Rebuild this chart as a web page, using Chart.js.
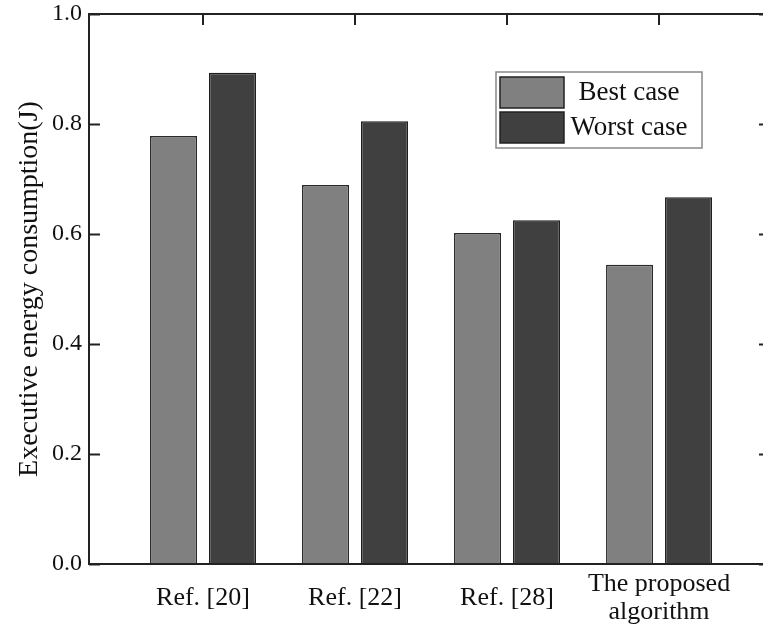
<!DOCTYPE html>
<html>
<head>
<meta charset="utf-8">
<script src="https://cdn.jsdelivr.net/npm/chart.js@4.4.1/dist/chart.umd.min.js"></script>
<style>
    html, body { margin: 0; padding: 0; background: #fff; overflow: hidden; }
    canvas { display: block; }
</style>
</head>
<body>
<canvas id="chart" width="780" height="630"></canvas>
<script>
const categories = ['Ref. [20]', 'Ref. [22]', 'Ref. [28]', ['The proposed', 'algorithm']];
const bestCase = [0.778, 0.689, 0.602, 0.544];
const worstCase = [0.893, 0.805, 0.625, 0.667];
const yTicks = [0, 0.2, 0.4, 0.6, 0.8, 1.0];

const serif = "'Liberation Serif', 'DejaVu Serif', serif";
const ink = '#222';

const toPoints = (values) => values.map((v, i) => ({ x: i, y: v }));

// frame, inward ticks and the boxed legend
const framePlugin = {
    id: 'frame',
    afterDraw(chart) {
        const { ctx, chartArea: a, scales } = chart;
        ctx.save();
        ctx.strokeStyle = ink;
        ctx.lineWidth = 2;
        ctx.strokeRect(a.left, a.top, a.right - a.left, a.bottom - a.top);
        ctx.beginPath();
        yTicks.forEach(v => {
            const y = Math.round(scales.y.getPixelForValue(v)) + 0.5;
            ctx.moveTo(a.left, y); ctx.lineTo(a.left + 11, y);
            ctx.moveTo(a.right, y); ctx.lineTo(a.right - 11, y);
        });
        categories.forEach((c, i) => {
            const x = Math.round(scales.x.getPixelForValue(i));
            ctx.moveTo(x, a.top); ctx.lineTo(x, a.top + 11);
        });
        ctx.stroke();

        // legend box
        const lx = 496, ly = 72, lw = 206, lh = 76;
        ctx.lineWidth = 1.5;
        ctx.strokeStyle = '#888';
        ctx.strokeRect(lx, ly, lw, lh);
        ctx.font = '27px ' + serif;
        ctx.textBaseline = 'middle';
        ctx.textAlign = 'center';
        chart.data.datasets.forEach((ds, i) => {
            const sy = ly + 5 + i * 35;
            ctx.fillStyle = ds.backgroundColor;
            ctx.fillRect(lx + 4, sy, 64, 31);
            ctx.strokeStyle = ink;
            ctx.lineWidth = 1.5;
            ctx.strokeRect(lx + 4, sy, 64, 31);
            ctx.fillStyle = '#111';
            ctx.fillText(ds.label, lx + 133, sy + 16);
        });
        ctx.restore();
    }
};

new Chart(document.getElementById('chart'), {
    type: 'bar',
    data: {
        datasets: [
            {
                label: 'Best case',
                data: toPoints(bestCase),
                backgroundColor: '#808080',
                borderColor: '#2a2a2a',
                borderWidth: 1.5
            },
            {
                label: 'Worst case',
                data: toPoints(worstCase),
                backgroundColor: '#404040',
                borderColor: '#1e1e1e',
                borderWidth: 1.5
            }
        ]
    },
    options: {
        responsive: false,
        animation: false,
        categoryPercentage: 0.776,
        barPercentage: 0.797,
        layout: { padding: { top: 14, right: 10, left: 0, bottom: 0 } },
        plugins: {
            legend: { display: false },
            tooltip: { enabled: false }
        },
        scales: {
            x: {
                type: 'linear',
                offset: false,
                min: -0.75,
                max: 3.73,
                afterBuildTicks: (scale) => {
                    scale.ticks = categories.map((c, i) => ({ value: i }));
                },
                afterFit: (scale) => {
                    scale.height = 66;
                    scale.paddingLeft = 0;
                    scale.paddingRight = 0;
                },
                grid: { display: false, drawTicks: false },
                border: { display: false },
                ticks: {
                    autoSkip: false,
                    maxRotation: 0,
                    padding: 20,
                    crossAlign: 'center',
                    color: '#111',
                    font: { family: serif, size: 26, lineHeight: 1.1 },
                    callback: (v) => categories[v]
                }
            },
            y: {
                min: 0,
                max: 1.0,
                afterBuildTicks: (scale) => {
                    scale.ticks = yTicks.map(v => ({ value: v }));
                },
                afterFit: (scale) => {
                    scale.width = 89;
                    scale.paddingTop = 0;
                    scale.paddingBottom = 0;
                },
                grid: { display: false, drawTicks: false },
                border: { display: false },
                ticks: {
                    padding: 7,
                    color: '#111',
                    font: { family: serif, size: 24 },
                    callback: (v) => v.toFixed(1)
                },
                title: {
                    display: true,
                    text: 'Executive energy consumption(J)',
                    color: '#111',
                    font: { family: serif, size: 28 },
                    padding: { top: 13, bottom: 0 }
                }
            }
        }
    },
    plugins: [framePlugin]
});
</script>
</body>
</html>
